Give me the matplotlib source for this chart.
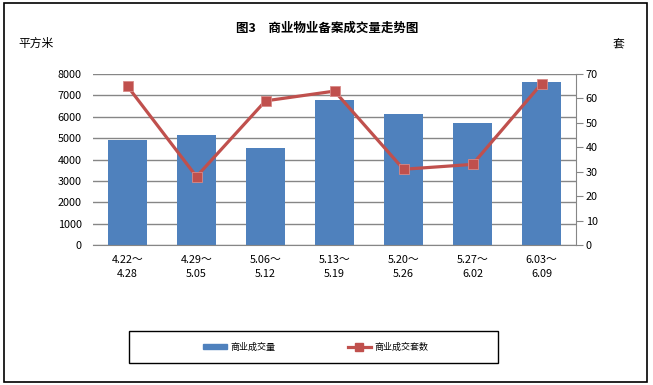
import numpy as np
import matplotlib.pyplot as plt
from matplotlib.patches import Rectangle
from matplotlib.lines import Line2D

plt.rcParams['font.family'] = ['Noto Sans CJK SC', 'DejaVu Sans']

weeks = ['4.22～\n4.28', '4.29～\n5.05', '5.06～\n5.12', '5.13～\n5.19',
         '5.20～\n5.26', '5.27～\n6.02', '6.03～\n6.09']
area = [4910, 5150, 4540, 6780, 6130, 5710, 7630]   # 商业成交量 (平方米)
units = [65, 28, 59, 63, 31, 33, 66]                # 商业成交套数 (套)

BLUE = '#4F81BD'
RED = '#C0504D'
GRID = '#868686'

W, H = 653, 385
fig = plt.figure(figsize=(W / 100, H / 100), dpi=100)

# outer frame
fig.patches.append(Rectangle((4 / W, 3 / H), 643 / W, 379 / H, transform=fig.transFigure,
                             fill=False, edgecolor='black', linewidth=1.2))

ax = fig.add_axes([93 / W, 1 - 245 / H, 483 / W, 171 / H])
x = np.arange(len(weeks))
ax.bar(x, area, width=0.56, color=BLUE, zorder=2)
ax.set_xlim(-0.5, len(weeks) - 0.5)
ax.set_ylim(0, 8000)
ax.set_yticks(range(0, 8001, 1000))
ax.grid(axis='y', color=GRID, linewidth=1, zorder=0)
ax.set_axisbelow(True)
for s in ['top', 'right', 'left']:
    ax.spines[s].set_visible(False)
ax.spines['bottom'].set_color(GRID)
ax.tick_params(axis='y', length=0, labelsize=7.8, pad=8)
ax.tick_params(axis='x', length=0, labelsize=7.8, pad=7)
ax.set_xticks(x)
ax.set_xticklabels(weeks, linespacing=1.5)

ax2 = ax.twinx()
ax2.plot(x, units, color=RED, linewidth=2.3, marker='s', markersize=7,
         markerfacecolor=RED, markeredgecolor='#d88a88', markeredgewidth=0.6, zorder=3)
ax2.set_ylim(0, 70)
ax2.set_yticks(range(0, 71, 10))
for s in ['top', 'left', 'bottom']:
    ax2.spines[s].set_visible(False)
ax2.spines['right'].set_color(GRID)
ax2.tick_params(axis='y', direction='out', length=5, color=GRID, labelsize=7.8, pad=2)

fig.text(327 / W, 1 - 28 / H, '图3\u3000商业物业备案成交量走势图', ha='center', va='center',
         fontsize=9, fontweight='bold')
fig.text(18 / W, 1 - 43 / H, '平方米', ha='left', va='center', fontsize=8.5)
fig.text(618 / W, 1 - 45 / H, '套', ha='center', va='center', fontsize=8.5)

# legend box
fig.patches.append(Rectangle((129 / W, 1 - 363 / H), 369 / W, 32 / H, transform=fig.transFigure,
                             fill=False, edgecolor='black', linewidth=1))
handles = [Rectangle((0, 0), 1, 1, color=BLUE),
           Line2D([0], [0], color=RED, linewidth=2.3, marker='s', markersize=6)]
fig.legend(handles, ['商业成交量', '商业成交套数'], loc='center',
           bbox_to_anchor=(316 / W, 1 - 347 / H), ncol=2, frameon=False,
           fontsize=6.5, handlelength=2.6, handleheight=0.6, columnspacing=8, handletextpad=0.4)

fig.savefig('out.png', dpi=100)
